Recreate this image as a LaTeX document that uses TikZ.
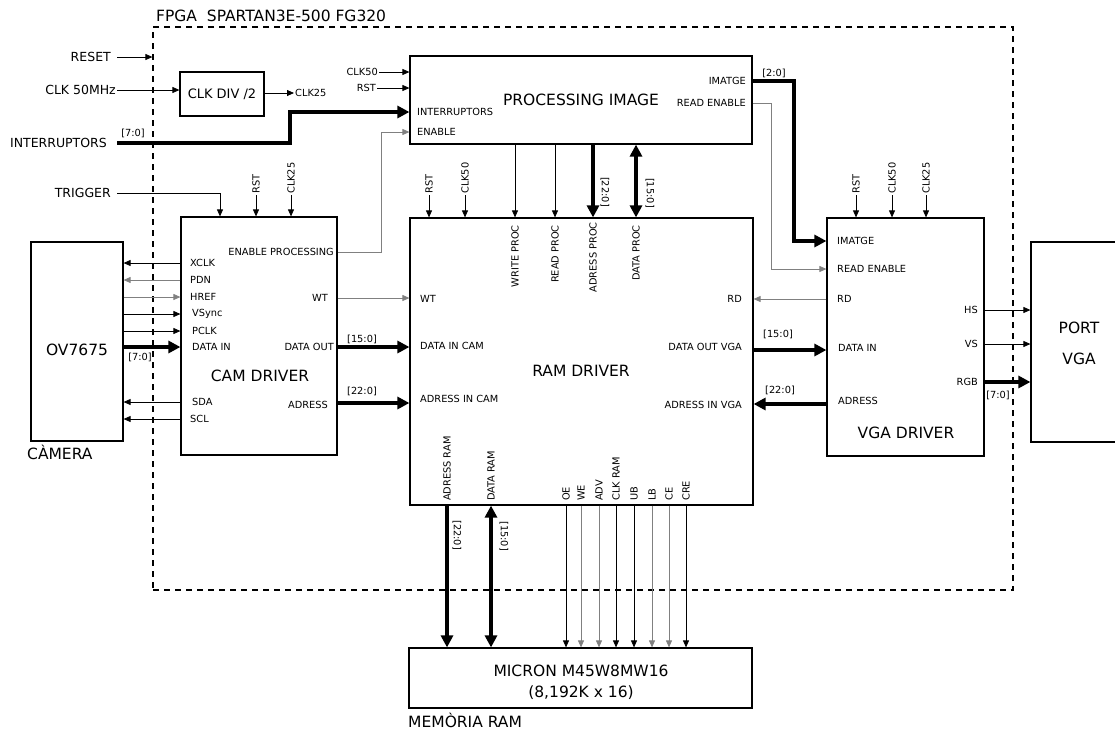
\documentclass[tikz,border=0pt]{standalone}
\usepackage{fontspec}
\setmainfont{DejaVu Sans}
\usetikzlibrary{arrows.meta}
\newcommand{\pinfont}{\fontsize{9.8}{10}\selectfont}
\newcommand{\extfont}{\fontsize{12.5}{13}\selectfont}
\newcommand{\midfont}{\fontsize{13}{14}\selectfont}
\newcommand{\bigfont}{\fontsize{15.5}{17}\selectfont}
\tikzset{
  blk/.style={draw, line width=1.2pt, inner sep=0pt},
  pin/.style={inner sep=1pt, font=\pinfont},
  ext/.style={inner sep=1pt, font=\extfont},
  big/.style={inner sep=0pt, font=\bigfont},
  sig/.style={line width=0.8pt, -{Triangle[length=7pt,width=6pt]}},
  gsig/.style={sig, draw=gray},
  bus/.style={line width=4pt, -{Triangle[length=12pt,width=12pt]}},
  bus2/.style={line width=4pt, {Triangle[length=12pt,width=12pt]}-{Triangle[length=12pt,width=12pt]}}
}

\begin{document}
\begin{tikzpicture}[x=1pt,y=-1pt]
\useasboundingbox (0,0) rectangle (1115,731);

\node[blk, dash pattern=on 6pt off 5pt, minimum width=860pt, minimum height=563pt] (fpga) at (583,308.5) {};
\node[big, anchor=west] (fpgat) at (156,16) {FPGA\ \ SPARTAN3E-500 FG320};

\node[blk, minimum width=84pt, minimum height=44pt, font=\midfont] (clkdiv) at (222,94) {CLK DIV /2};
\node[blk, minimum width=342pt, minimum height=88pt, font=\bigfont] (proc) at (581,100) {PROCESSING IMAGE};
\node[blk, minimum width=156pt, minimum height=238pt] (cam) at (259,336) {};
\node[blk, minimum width=343pt, minimum height=287pt] (ram) at (581.5,361.5) {};
\node[blk, minimum width=157pt, minimum height=238pt] (vga) at (905.5,337) {};
\node[blk, minimum width=94pt, minimum height=200pt] (port) at (1078,342) {};
\node[blk, minimum width=92pt, minimum height=199pt] (ov) at (77,341.5) {};
\node[blk, minimum width=343pt, minimum height=60pt] (micron) at (580.5,678) {};

\node[big] (camt) at (260,376) {CAM DRIVER};
\node[big] (ramt) at (581,371) {RAM DRIVER};
\node[big] (vgat) at (906,433) {VGA DRIVER};
\node[big] (ovt) at (77,350) {OV7675};
\node[big] (portt) at (1079,328) {PORT};
\node[big] (portv) at (1079,359) {VGA};
\node[big] (mict) at (581,671) {MICRON M45W8MW16};
\node[big] (micn) at (581,693) {(8,192K x 16)};
\node[big, anchor=west] (camlab) at (27,452) {CÀMERA};
\node[big, anchor=west] (memlab) at (408,720) {MEMÒRIA RAM};

% inputs of the board
\node[ext, anchor=east] (reset) at (112,57) {RESET};
\node[ext, anchor=east] (clkin) at (117,90) {CLK 50MHz};
\node[ext, anchor=east] (intr) at (108,143) {INTERRUPTORS};
\node[ext, anchor=east] (trig) at (112,193) {TRIGGER};
\node[pin] (intrb) at (133,133) {[7:0]};
\draw[sig] ([xshift=5pt]reset.east) -- (reset.east -| fpga.west);
\draw[sig] (clkin.east) -- (clkdiv.west |- clkin.east);
\node[pin, anchor=west] (clk25) at (294,93) {CLK25};
\draw[sig] (clkdiv.east |- clk25) -- (clk25.west);

% processing image
\node[pin, anchor=east] (pclk) at (379,72) {CLK50};
\node[pin, anchor=east] (prst) at (377,88) {RST};
\node[pin, anchor=west] (pintr) at (416,112) {INTERRUPTORS};
\node[pin, anchor=west] (pen) at (416,132) {ENABLE};
\node[pin, anchor=east] (pimg) at (747,81) {IMATGE};
\node[pin, anchor=east] (pread) at (747,103) {READ ENABLE};
\node[pin] (pimgb) at (774,73) {[2:0]};
\draw[sig] (pclk.east) -- (proc.west |- pclk);
\draw[sig] (prst.east) -- (proc.west |- prst);
\draw[bus] ([xshift=9pt]intr.east) -- (290,143 |- intr.east) |- (proc.west |- pintr);
\draw[sig] ([xshift=5pt]trig.east) -| (cam.north -| 220,0);

% cam driver
\node[pin, rotate=90, anchor=west] (crst) at (256,195) {RST};
\node[pin, rotate=90, anchor=west] (cclk) at (291,195) {CLK25};
\draw[sig] (crst.west) -- (crst.west |- cam.north);
\draw[sig] (cclk.west) -- (cclk.west |- cam.north);
\node[pin, anchor=west] (cxclk) at (189,263) {XCLK};
\node[pin, anchor=west] (cpdn) at (189,280) {PDN};
\node[pin, anchor=west] (chref) at (189,297) {HREF};
\node[pin, anchor=west] (cvs) at (191,314) {VSync};
\node[pin, anchor=west] (cpclk) at (191,331) {PCLK};
\node[pin, anchor=west] (cdin) at (191,347) {DATA IN};
\node[pin, anchor=west] (csda) at (191,402) {SDA};
\node[pin, anchor=west] (cscl) at (189,419) {SCL};
\node[pin] (cdinb) at (140,357) {[7:0]};
\draw[sig] (cam.west |- cxclk) -- (ov.east |- cxclk);
\draw[gsig] (cam.west |- cpdn) -- (ov.east |- cpdn);
\draw[gsig] (ov.east |- chref) -- (cam.west |- chref);
\draw[sig] (ov.east |- cvs) -- (cam.west |- cvs);
\draw[sig] (ov.east |- cpclk) -- (cam.west |- cpclk);
\draw[bus] (ov.east |- cdin) -- (cam.west |- cdin);
\draw[sig] (cam.west |- csda) -- (ov.east |- csda);
\draw[sig] (cam.west |- cscl) -- (ov.east |- cscl);

\node[pin, anchor=east] (cen) at (335,252) {ENABLE PROCESSING};
\node[pin, anchor=east] (cwt) at (329,298) {WT};
\node[pin, anchor=east] (cdout) at (335,347) {DATA OUT};
\node[pin, anchor=east] (cadr) at (329,405) {ADRESS};
\node[pin] (cdoutb) at (362,339) {[15:0]};
\node[pin] (cadrb) at (362,391) {[22:0]};
\draw[gsig] (cam.east |- cen) -| (381,0 |- pen) -- (proc.west |- pen);
\draw[gsig] (cam.east |- cwt) -- (ram.west |- cwt);
\draw[bus] (cam.east |- cdout) -- (ram.west |- cdout);
\draw[bus] (cam.east |- 0,403) -- (ram.west |- 0,403);

% ram driver
\node[pin, rotate=90, anchor=west] (rrst) at (429,195) {RST};
\node[pin, rotate=90, anchor=west] (rclk) at (465,195) {CLK50};
\draw[sig] (rrst.west) -- (rrst.west |- ram.north);
\draw[sig] (rclk.west) -- (rclk.west |- ram.north);
\node[pin, rotate=90, anchor=east] (rwp) at (515,224) {WRITE PROC};
\node[pin, rotate=90, anchor=east] (rrp) at (555,224) {READ PROC};
\node[pin, rotate=90, anchor=east] (rap) at (593,221) {ADRESS PROC};
\node[pin, rotate=90, anchor=east] (rdp) at (636,224) {DATA PROC};
\node[pin, rotate=-90] (rapb) at (605,192) {[22:0]};
\node[pin, rotate=-90] (rdpb) at (650,193) {[15:0]};
\draw[sig] (proc.south -| rwp) -- (ram.north -| rwp);
\draw[sig] (proc.south -| rrp) -- (ram.north -| rrp);
\draw[bus] (proc.south -| rap) -- (ram.north -| rap);
\draw[bus2] (proc.south -| rdp) -- (ram.north -| rdp);

\node[pin, anchor=west] (rwt) at (419,299) {WT};
\node[pin, anchor=west] (rdin) at (419,346) {DATA IN CAM};
\node[pin, anchor=west] (radr) at (419,399) {ADRESS IN CAM};
\node[pin, anchor=east] (rrd) at (743,299) {RD};
\node[pin, anchor=east] (rdout) at (743,347) {DATA OUT VGA};
\node[pin, anchor=east] (radv) at (743,405) {ADRESS IN VGA};

\node[pin, rotate=90, anchor=west] (rar) at (447,502) {ADRESS RAM};
\node[pin, rotate=90, anchor=west] (rdr) at (491,502) {DATA RAM};
\node[pin, rotate=90, anchor=west] (roe) at (566,502) {OE};
\node[pin, rotate=90, anchor=west] (rwe) at (581,502) {WE};
\node[pin, rotate=90, anchor=west] (radv) at (599,502) {ADV};
\node[pin, rotate=90, anchor=west] (rclkr) at (616,502) {CLK RAM};
\node[pin, rotate=90, anchor=west] (rub) at (634,502) {UB};
\node[pin, rotate=90, anchor=west] (rlb) at (652,502) {LB};
\node[pin, rotate=90, anchor=west] (rce) at (669,502) {CE};
\node[pin, rotate=90, anchor=west] (rcre) at (686,502) {CRE};
\node[pin, rotate=-90] (rarb) at (457,535) {[22:0]};
\node[pin, rotate=-90] (rdrb) at (504,536) {[15:0]};
\draw[bus] (ram.south -| rar) -- (micron.north -| rar);
\draw[bus2] (ram.south -| rdr) -- (micron.north -| rdr);
\draw[sig] (ram.south -| roe) -- (micron.north -| roe);
\draw[gsig] (ram.south -| rwe) -- (micron.north -| rwe);
\draw[gsig] (ram.south -| radv) -- (micron.north -| radv);
\draw[sig] (ram.south -| rclkr) -- (micron.north -| rclkr);
\draw[sig] (ram.south -| rub) -- (micron.north -| rub);
\draw[gsig] (ram.south -| rlb) -- (micron.north -| rlb);
\draw[gsig] (ram.south -| rce) -- (micron.north -| rce);
\draw[sig] (ram.south -| rcre) -- (micron.north -| rcre);

% vga driver
\node[pin, rotate=90, anchor=west] (vrst) at (856,195) {RST};
\node[pin, rotate=90, anchor=west] (vclk) at (892,195) {CLK50};
\node[pin, rotate=90, anchor=west] (vclk2) at (926,195) {CLK25};
\draw[sig] (vrst.west) -- (vrst.west |- vga.north);
\draw[sig] (vclk.west) -- (vclk.west |- vga.north);
\draw[sig] (vclk2.west) -- (vclk2.west |- vga.north);
\node[pin, anchor=west] (vimg) at (836,241) {IMATGE};
\node[pin, anchor=west] (vread) at (836,269) {READ ENABLE};
\node[pin, anchor=west] (vrd) at (836,299) {RD};
\node[pin, anchor=west] (vdin) at (837,348) {DATA IN};
\node[pin, anchor=west] (vadr) at (837,401) {ADRESS};
\node[pin, anchor=east] (vhs) at (979,310) {HS};
\node[pin, anchor=east] (vvs) at (979,344) {VS};
\node[pin, anchor=east] (vrgb) at (979,382) {RGB};
\node[pin] (vdinb) at (778,334) {[15:0]};
\node[pin] (vadrb) at (780,390) {[22:0]};
\node[pin] (vrgbb) at (998,395) {[7:0]};
\draw[bus] (proc.east |- pimg) -| (794,0 |- vimg) -- (vga.west |- vimg);
\draw[gsig] (proc.east |- pread) -| (771,0 |- vread) -- (vga.west |- vread);
\draw[gsig] (vga.west |- vrd) -- (ram.east |- vrd);
\draw[bus] (ram.east |- 0,350) -- (vga.west |- 0,350);
\draw[bus] (vga.west |- 0,404) -- (ram.east |- 0,404);
\draw[sig] (vga.east |- vhs) -- (port.west |- vhs);
\draw[sig] (vga.east |- vvs) -- (port.west |- vvs);
\draw[bus] (vga.east |- vrgb) -- (port.west |- vrgb);
\end{tikzpicture}
\end{document}
